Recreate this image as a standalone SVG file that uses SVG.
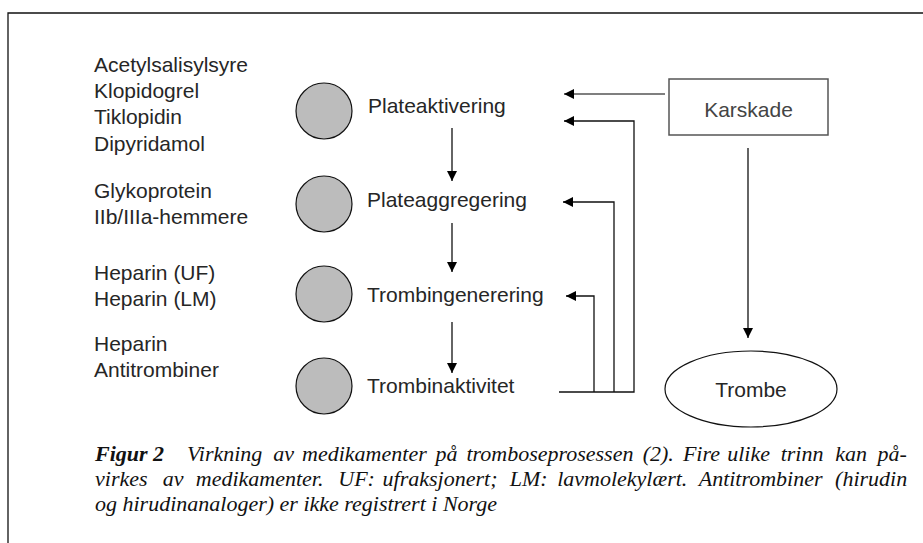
<svg xmlns="http://www.w3.org/2000/svg" width="923" height="543" viewBox="0 0 923 543">
<style>
.lbl{font-family:"Liberation Sans",Arial,Helvetica,sans-serif;font-size:21px;fill:#262626}
.cap{font-family:"Liberation Serif","Times New Roman",serif;font-size:22px;font-style:italic;fill:#111}
.circ{fill:#bcbcbc;stroke:#111;stroke-width:1.2}
.ln{fill:none;stroke:#111;stroke-width:1.3}
.gln{fill:none;stroke:#555;stroke-width:1.5}
</style>
<defs>
<marker id="ah" viewBox="0 0 10 10" refX="10" refY="5" markerWidth="10" markerHeight="10" markerUnits="userSpaceOnUse" orient="auto">
<path d="M0,0 L10,5 L0,10 Z" fill="#000"/>
</marker>
</defs>
<rect width="923" height="543" fill="#fff"/>
<g id="frame">
<path d="M8,543 V13 H923" fill="none" stroke="#111" stroke-width="1.3"/>
</g>
<g id="drugs1">
<text x="94" y="72" class="lbl">Acetylsalisylsyre</text>
<text x="94" y="98" class="lbl">Klopidogrel</text>
<text x="94" y="124" class="lbl">Tiklopidin</text>
<text x="94" y="151" class="lbl">Dipyridamol</text>
</g>
<g id="drugs2">
<text x="94" y="198" class="lbl">Glykoprotein</text>
<text x="94" y="224" class="lbl">IIb/IIIa-hemmere</text>
</g>
<g id="drugs3">
<text x="94" y="280" class="lbl">Heparin (UF)</text>
<text x="94" y="306" class="lbl">Heparin (LM)</text>
</g>
<g id="drugs4">
<text x="94" y="351" class="lbl">Heparin</text>
<text x="94" y="377" class="lbl">Antitrombiner</text>
</g>
<g id="step1">
<circle cx="324" cy="111" r="28" class="circ"/>
<text x="368" y="113" class="lbl">Plateaktivering</text>
</g>
<g id="step2">
<circle cx="324" cy="204" r="28" class="circ"/>
<text x="367" y="207" class="lbl">Plateaggregering</text>
</g>
<g id="step3">
<circle cx="324" cy="294" r="28" class="circ"/>
<text x="367" y="302" class="lbl">Trombingenerering</text>
</g>
<g id="step4">
<circle cx="324" cy="386" r="28" class="circ"/>
<text x="367" y="393" class="lbl">Trombinaktivitet</text>
</g>
<g id="karskade">
<rect x="669" y="79" width="159" height="56" fill="#fff" stroke="#555" stroke-width="1.5"/>
<text x="748.5" y="117" text-anchor="middle" class="lbl" style="fill:#444">Karskade</text>
</g>
<g id="trombe">
<ellipse cx="751" cy="389" rx="86" ry="38" fill="#fff" stroke="#111" stroke-width="1.2"/>
<text x="751" y="397" text-anchor="middle" class="lbl">Trombe</text>
</g>
<g id="connectors">
<path d="M452,128 V181" class="ln" marker-end="url(#ah)"/>
<path d="M452,223 V272" class="ln" marker-end="url(#ah)"/>
<path d="M452,322 V373" class="ln" marker-end="url(#ah)"/>
<path d="M665,94 H564" class="gln" marker-end="url(#ah)"/>
<path d="M559,392 H634 V121 H564" class="ln" marker-end="url(#ah)"/>
<path d="M614,392 V202 H563" class="ln" marker-end="url(#ah)"/>
<path d="M594,392 V296 H566" class="ln" marker-end="url(#ah)"/>
<path d="M748,148 V338" class="ln" marker-end="url(#ah)"/>
</g>
<g id="caption">
<text y="461" class="cap"><tspan x="95" style="font-weight:bold">Figur 2</tspan><tspan x="187">Virkning</tspan><tspan x="273.2">av</tspan><tspan x="302.1">medikamenter</tspan><tspan x="435.4">på</tspan><tspan x="466.4">tromboseprosessen</tspan><tspan x="642.7">(2).</tspan><tspan x="682.9">Fire</tspan><tspan x="727.2">ulike</tspan><tspan x="780.7">trinn</tspan><tspan x="835.2">kan</tspan><tspan x="877.4">på-</tspan></text>
<text y="486" class="cap"><tspan x="95">virkes</tspan><tspan x="162.8">av</tspan><tspan x="195.8">medikamenter.</tspan><tspan x="338.3">UF:</tspan><tspan x="382.6">ufraksjonert;</tspan><tspan x="509.8">LM:</tspan><tspan x="557.2">lavmolekylært.</tspan><tspan x="698.7">Antitrombiner</tspan><tspan x="835.1">(hirudin</tspan></text>
<text x="95" y="511" class="cap">og hirudinanaloger) er ikke registrert i Norge</text>
</g>
</svg>
